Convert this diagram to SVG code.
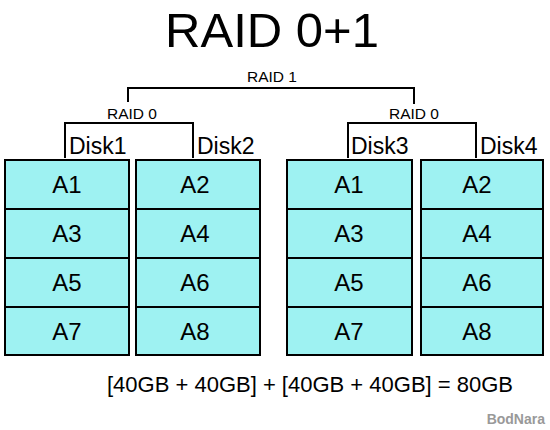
<svg xmlns="http://www.w3.org/2000/svg" width="550" height="430" viewBox="0 0 550 430">
<style>
text{font-family:"Liberation Sans",Arial,sans-serif;fill:#000}
.cell{fill:#9EF2F2;stroke:#000;stroke-width:2}
.lbl{font-size:24px;text-anchor:middle}
.disk{font-size:23px}
.raid{font-size:15.5px;text-anchor:middle}
.conn{fill:none;stroke:#000;stroke-width:2}
</style>
<rect width="550" height="430" fill="#fff"/>
<text x="272" y="47" font-size="49" text-anchor="middle">RAID 0+1</text>
<g id="connectors">
<path class="conn" d="M128,102 V88 H414 V104"/>
<path class="conn" d="M65,158 V123 H193 V158"/>
<path class="conn" d="M348,158 V123 H476 V158"/>
</g>
<text class="raid" x="272" y="82">RAID 1</text>
<text class="raid" x="132" y="119">RAID 0</text>
<text class="raid" x="414" y="119">RAID 0</text>
<g id="disk1">
<text class="disk" x="69" y="154">Disk1</text>
<rect class="cell" x="5" y="160" width="124" height="49"/>
<rect class="cell" x="5" y="209" width="124" height="49"/>
<rect class="cell" x="5" y="258" width="124" height="49"/>
<rect class="cell" x="5" y="307" width="124" height="48"/>
<text class="lbl" x="67" y="193">A1</text>
<text class="lbl" x="67" y="242">A3</text>
<text class="lbl" x="67" y="291">A5</text>
<text class="lbl" x="67" y="340">A7</text>
</g>
<g id="disk2">
<text class="disk" x="197" y="154">Disk2</text>
<rect class="cell" x="136" y="160" width="124" height="49"/>
<rect class="cell" x="136" y="209" width="124" height="49"/>
<rect class="cell" x="136" y="258" width="124" height="49"/>
<rect class="cell" x="136" y="307" width="124" height="48"/>
<text class="lbl" x="195" y="193">A2</text>
<text class="lbl" x="195" y="242">A4</text>
<text class="lbl" x="195" y="291">A6</text>
<text class="lbl" x="195" y="340">A8</text>
</g>
<g id="disk3">
<text class="disk" x="351" y="154">Disk3</text>
<rect class="cell" x="287" y="160" width="125" height="49"/>
<rect class="cell" x="287" y="209" width="125" height="49"/>
<rect class="cell" x="287" y="258" width="125" height="49"/>
<rect class="cell" x="287" y="307" width="125" height="48"/>
<text class="lbl" x="349" y="193">A1</text>
<text class="lbl" x="349" y="242">A3</text>
<text class="lbl" x="349" y="291">A5</text>
<text class="lbl" x="349" y="340">A7</text>
</g>
<g id="disk4">
<text class="disk" x="480" y="154">Disk4</text>
<rect class="cell" x="421" y="160" width="122" height="49"/>
<rect class="cell" x="421" y="209" width="122" height="49"/>
<rect class="cell" x="421" y="258" width="122" height="49"/>
<rect class="cell" x="421" y="307" width="122" height="48"/>
<text class="lbl" x="477" y="193">A2</text>
<text class="lbl" x="477" y="242">A4</text>
<text class="lbl" x="477" y="291">A6</text>
<text class="lbl" x="477" y="340">A8</text>
</g>
<text x="310" y="392" font-size="22" text-anchor="middle">[40GB + 40GB] + [40GB + 40GB] = 80GB</text>
<text x="545" y="424" font-size="14" font-weight="bold" fill="#999" style="fill:#999" text-anchor="end">BodNara</text>
</svg>
